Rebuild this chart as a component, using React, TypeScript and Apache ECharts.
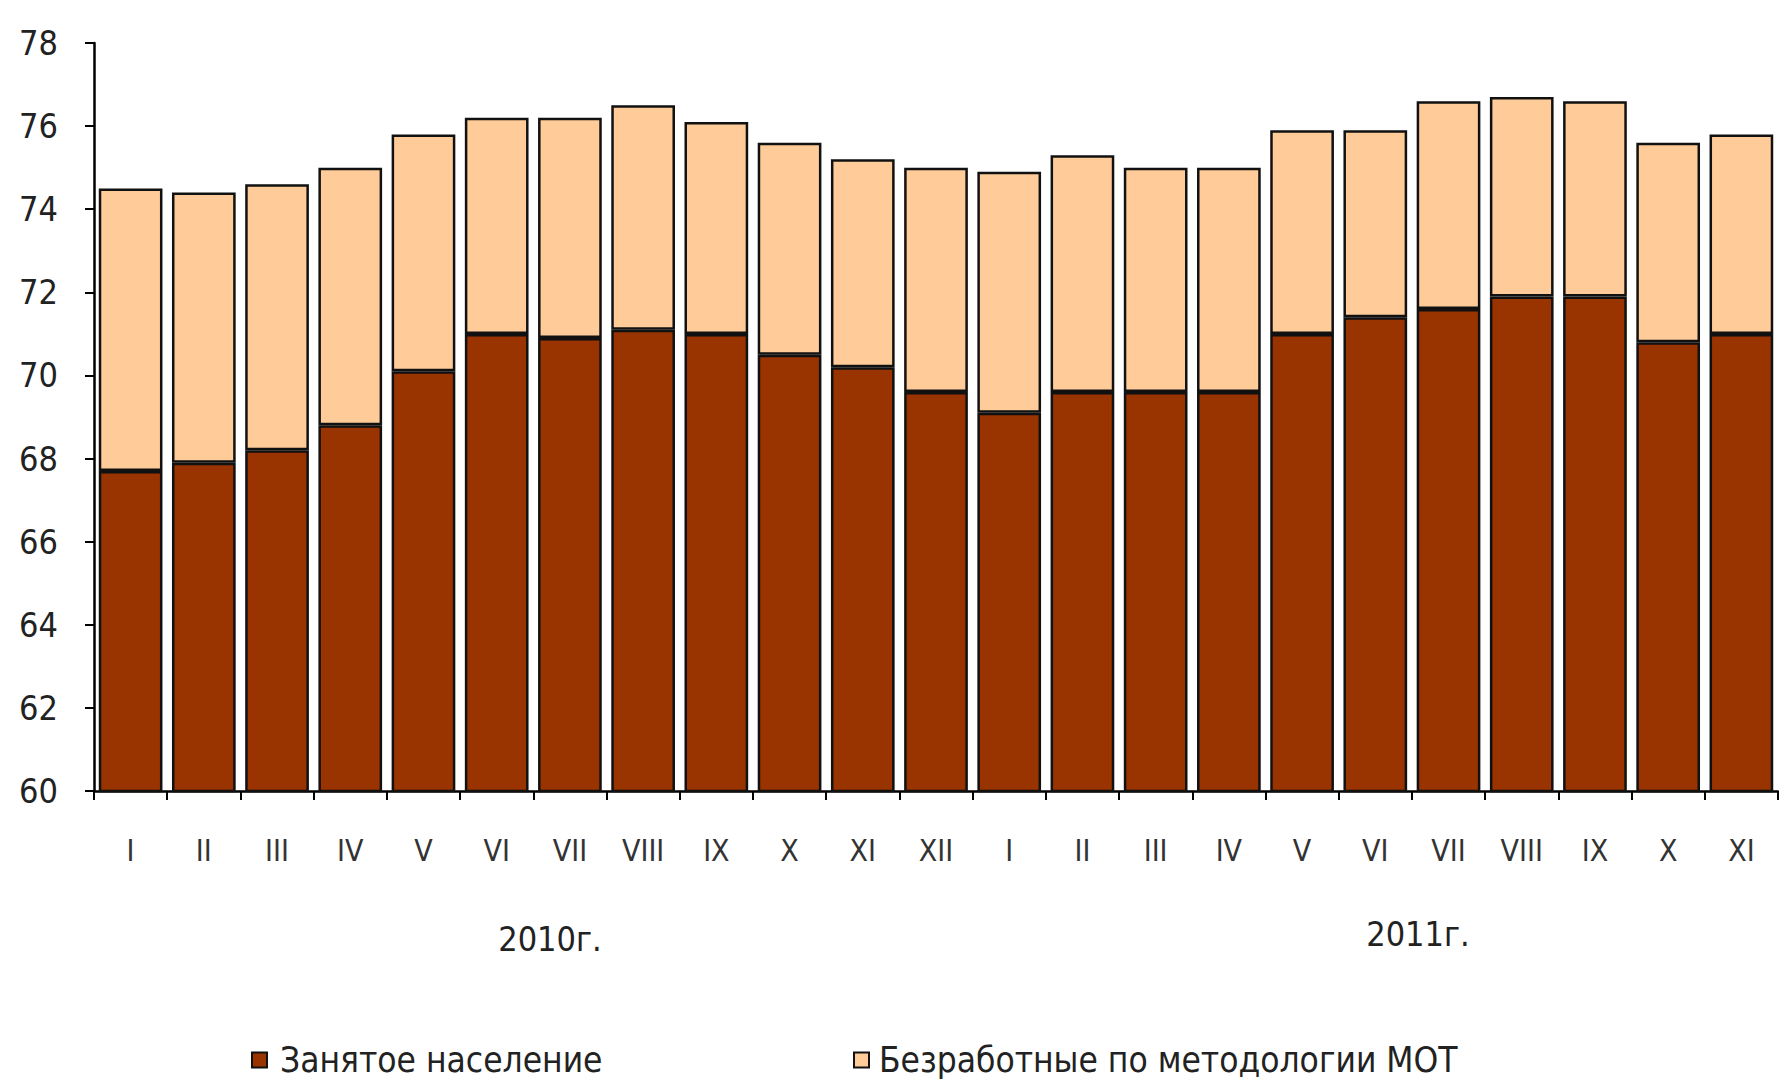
import React, { useEffect, useRef } from "react";
import * as echarts from "echarts";

const months2010 = ["I", "II", "III", "IV", "V", "VI", "VII", "VIII", "IX", "X", "XI", "XII"];
const months2011 = ["I", "II", "III", "IV", "V", "VI", "VII", "VIII", "IX", "X", "XI"];
const categories = [...months2010, ...months2011];

const employed = [
  67.7, 67.9, 68.2, 68.8, 70.1, 71.0, 70.9, 71.1, 71.0, 70.5, 70.2, 69.6,
  69.1, 69.6, 69.6, 69.6, 71.0, 71.4, 71.6, 71.9, 71.9, 70.8, 71.0,
];
const unemployed = [
  6.8, 6.5, 6.4, 6.2, 5.7, 5.2, 5.3, 5.4, 5.1, 5.1, 5.0, 5.4,
  5.8, 5.7, 5.4, 5.4, 4.9, 4.5, 5.0, 4.8, 4.7, 4.8, 4.8,
];
const seriesNames = ["Занятое население", "Безработные по методологии МОТ"];
const yearLabels = ["2010г.", "2011г."];

const FONT = "'Liberation Sans Narrow', 'Arial Narrow', 'DejaVu Sans Condensed', 'Liberation Sans', sans-serif";

export default function App() {
  const ref = useRef<HTMLDivElement>(null);
  useEffect(() => {
    document.body.style.margin = "0";
    document.body.style.overflow = "hidden";
    const chart = echarts.init(ref.current!, null, { renderer: "svg" });
    chart.setOption({
      animation: false,
      backgroundColor: "#ffffff",
      grid: { left: 94, right: 1, top: 43, bottom: 290, containLabel: false },
      xAxis: {
        type: "category",
        data: categories,
        axisLine: { lineStyle: { color: "#000", width: 2.5 } },
        axisTick: { show: true, length: 9, lineStyle: { color: "#000", width: 2 } },
        axisLabel: { margin: 44, fontSize: 30, color: "#333", fontFamily: FONT },
      },
      yAxis: {
        type: "value",
        min: 60,
        max: 78,
        interval: 2,
        splitLine: { show: false },
        axisLine: { show: true, lineStyle: { color: "#000", width: 2.5 } },
        axisTick: { show: true, length: 9, lineStyle: { color: "#000", width: 2 } },
        axisLabel: { margin: 36, fontSize: 34, color: "#222", fontFamily: FONT },
      },
      legend: [
        {
          data: [seriesNames[0]],
          left: 251,
          top: 1041,
          padding: 0,
          icon: "rect",
          itemWidth: 15,
          itemHeight: 15,
          textStyle: { fontSize: 35, lineHeight: 38, padding: [0, 0, 0, 8], color: "#222", fontFamily: FONT },
        },
        {
          data: [seriesNames[1]],
          left: 853,
          top: 1041,
          padding: 0,
          icon: "rect",
          itemWidth: 15,
          itemHeight: 15,
          textStyle: { fontSize: 35, lineHeight: 38, padding: [0, 0, 0, 5], color: "#222", fontFamily: FONT },
        },
      ],
      graphic: [
        {
          type: "text",
          x: 550,
          y: 939,
          style: { text: yearLabels[0], fontSize: 34, fontFamily: FONT, fill: "#222", textAlign: "center", textVerticalAlign: "middle" },
        },
        {
          type: "text",
          x: 1418,
          y: 934,
          style: { text: yearLabels[1], fontSize: 34, fontFamily: FONT, fill: "#222", textAlign: "center", textVerticalAlign: "middle" },
        },
      ],
      series: [
        {
          name: seriesNames[0],
          type: "bar",
          stack: "total",
          data: employed,
          barCategoryGap: "13%",
          itemStyle: { color: "#993300", borderColor: "#111", borderWidth: 2.5 },
        },
        {
          name: seriesNames[1],
          type: "bar",
          stack: "total",
          data: unemployed,
          barCategoryGap: "13%",
          itemStyle: { color: "#FFCC99", borderColor: "#111", borderWidth: 2.5 },
        },
      ],
    });
    return () => chart.dispose();
  }, []);
  return <div ref={ref} style={{ width: 1779, height: 1081 }} />;
}
